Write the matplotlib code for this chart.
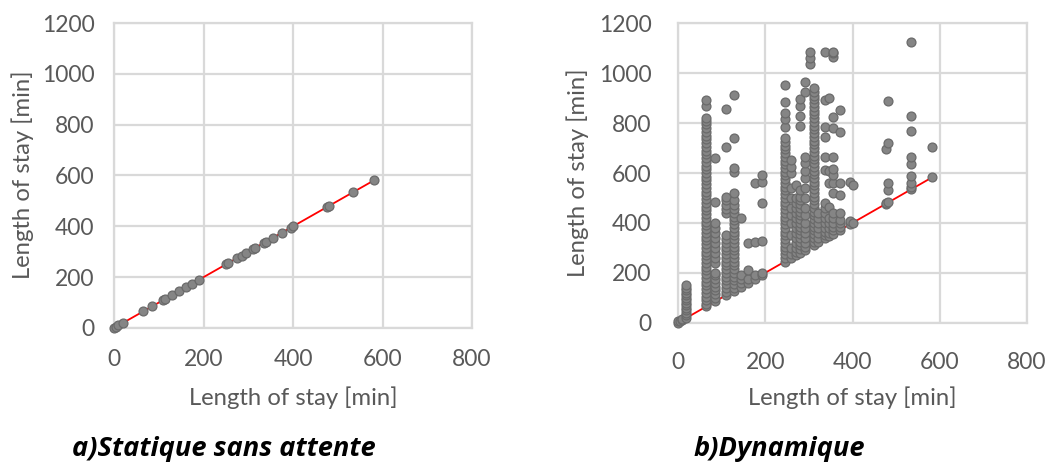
import matplotlib.pyplot as plt

# ---- data ----------------------------------------------------------------
# a) static: every stay lies on the diagonal
stat_x = [0, 5, 10, 20, 65, 85, 110, 115, 130, 145, 160, 175, 190, 250, 255,
          275, 285, 295, 310, 315, 335, 340, 355, 375, 395, 400, 475, 480,
          535, 582]
stat_y = [0, 5, 10, 20, 65, 85, 110, 115, 130, 145, 160, 175, 190, 250, 255,
          275, 285, 295, 310, 315, 335, 340, 355, 375, 395, 400, 475, 480,
          535, 582]

# b) dynamic: one list of y values per x column
dyn_at_0 = [0, 5]
dyn_at_5 = [5]
dyn_at_10 = [10, 15]
dyn_at_18 = [20, 30, 40, 50, 60, 70, 80, 90, 100, 110, 120, 130, 140, 150]
dyn_at_65 = [65, 75, 90, 105, 120, 135, 150, 165, 180, 195, 210, 225, 240,
             255, 270, 285, 300, 315, 330, 345, 360, 375, 390, 405, 420, 435,
             450, 465, 480, 495, 510, 525, 540, 555, 570, 585, 600, 615, 630,
             645, 660, 675, 690, 705, 720, 735, 750, 765, 780, 795, 810, 820,
             870, 892]
dyn_at_85 = [85, 100, 115, 130, 145, 160, 175, 190, 200, 240, 260, 280, 300,
             320, 340, 360, 380, 400, 485, 660]
dyn_at_110 = [110, 125, 140, 155, 170, 185, 200, 215, 230, 245, 260, 275, 290,
              305, 320, 335, 350, 440, 455, 470, 490, 505, 705, 855]
dyn_at_128 = [128, 140, 155, 170, 185, 200, 215, 230, 245, 260, 275, 290, 305,
              320, 335, 350, 365, 380, 395, 410, 425, 440, 455, 470, 490, 520,
              605, 620, 740, 912]
dyn_at_145 = [145, 160, 175, 190, 418]
dyn_at_160 = [160, 175, 211, 318]
dyn_at_177 = [177, 190, 325, 560]
dyn_at_192 = [192, 200, 328, 481, 565, 592]
dyn_at_245 = [245, 260, 275, 290, 305, 320, 335, 350, 365, 380, 395, 410, 425,
              440, 455, 470, 485, 500, 515, 530, 545, 560, 575, 590, 605, 620,
              635, 650, 665, 680, 695, 710, 725, 740, 785, 815, 840, 886, 953]
dyn_at_258 = [258, 275, 300, 350, 400, 430, 460, 500, 540, 600, 625, 652]
dyn_at_270 = [270, 285, 300, 320, 340, 360, 380, 400, 420, 440, 460, 480,
              500, 550]
dyn_at_280 = [280, 295, 310, 325, 340, 355, 370, 385, 400, 415, 430, 445, 460,
              475, 490, 505, 530, 790, 830, 870, 897]
dyn_at_292 = [292, 305, 320, 340, 360, 380, 400, 430, 460, 500, 540, 580, 610,
              640, 665, 926, 966]
dyn_at_302 = [1036, 1060, 1086]
dyn_at_312 = [312, 325, 340, 355, 370, 385, 400, 415, 430, 445, 460, 475, 490,
              505, 520, 535, 550, 565, 580, 595, 610, 625, 640, 655, 670, 685,
              700, 715, 730, 745, 760, 775, 790, 805, 820, 835, 850, 865, 880,
              895, 910, 925, 940]
dyn_at_322 = [322, 340, 360, 380, 400, 420, 440]
dyn_at_338 = [338, 350, 365, 380, 400, 420, 440, 460, 478, 612, 665, 745, 785,
              893, 1086]
dyn_at_346 = [346, 360, 380, 400, 420, 465, 560, 610, 899]
dyn_at_356 = [356, 370, 385, 400, 420, 440, 520, 560, 590, 618, 665, 782, 826,
              1066, 1080, 1086]
dyn_at_372 = [372, 385, 400, 413, 440, 513, 559, 766, 852]
dyn_at_395 = [395, 408, 565]
dyn_at_402 = [400, 551]
dyn_at_476 = [476, 479, 698]
dyn_at_482 = [482, 532, 560, 719, 888]
dyn_at_535 = [535, 545, 560, 588, 638, 665, 770, 828, 1126]
dyn_at_582 = [585, 705]

dyn_columns = [
    (0, dyn_at_0), (5, dyn_at_5), (10, dyn_at_10), (18, dyn_at_18),
    (65, dyn_at_65), (85, dyn_at_85), (110, dyn_at_110), (128, dyn_at_128),
    (145, dyn_at_145), (160, dyn_at_160), (177, dyn_at_177),
    (192, dyn_at_192), (245, dyn_at_245), (258, dyn_at_258),
    (270, dyn_at_270), (280, dyn_at_280), (292, dyn_at_292),
    (302, dyn_at_302), (312, dyn_at_312), (322, dyn_at_322),
    (338, dyn_at_338), (346, dyn_at_346), (356, dyn_at_356),
    (372, dyn_at_372), (395, dyn_at_395), (402, dyn_at_402),
    (476, dyn_at_476), (482, dyn_at_482), (535, dyn_at_535),
    (582, dyn_at_582),
]

diag = [0, 582]  # reference line y = x
ticks_x = [0, 200, 400, 600, 800]
ticks_y = [0, 200, 400, 600, 800, 1000, 1200]

# ---- style ---------------------------------------------------------------
plt.rcParams['font.family'] = ['Lato', 'DejaVu Sans']
GRID = '#d9d9d9'
TXT = '#595959'
FILL = '#858585'
EDGE = '#6a6a6a'


def style_axes(ax, xpad, ypad):
    ax.set_xlim(0, 800)
    ax.set_ylim(0, 1200)
    ax.set_xticks(ticks_x)
    ax.set_yticks(ticks_y)
    ax.grid(True, color=GRID, linewidth=1.6)
    ax.set_axisbelow(True)
    for s in ax.spines.values():
        s.set_color(GRID)
        s.set_linewidth(1.6)
    ax.tick_params(length=0, labelsize=16.5, labelcolor=TXT)
    ax.tick_params(axis='x', pad=xpad)
    ax.tick_params(axis='y', pad=ypad)


def scatter(ax, xs, ys):
    ax.plot(diag, diag, color='red', linewidth=1.3, zorder=2)
    ax.plot(xs, ys, linestyle='none', marker='o', markersize=6.4,
            markerfacecolor=FILL, markeredgecolor=EDGE, markeredgewidth=0.9,
            zorder=3, clip_on=False)


fig = plt.figure(figsize=(10.54, 4.62), dpi=100)
W, H = 1054, 462

ax1 = fig.add_axes([114 / W, 1 - 328 / H, 358 / W, 305 / H])
style_axes(ax1, 15, 14)
scatter(ax1, stat_x, stat_y)

ax2 = fig.add_axes([678 / W, 1 - 322.7 / H, 349 / W, 299.4 / H])
style_axes(ax2, 21, 19)
dx, dy = [], []
for cx, ys in dyn_columns:
    dx += [cx] * len(ys)
    dy += ys
scatter(ax2, dx, dy)

# axis titles
for cx, cy_ in [(293, 398), (852, 398)]:
    fig.text(cx / W, 1 - cy_ / H, 'Length of stay [min]', ha='center',
             va='center', fontsize=17.2, color=TXT)
for cx, cy_ in [(23, 175), (578, 173)]:
    fig.text(cx / W, 1 - cy_ / H, 'Length of stay [min]', ha='center',
             va='center', rotation=90, fontsize=17.2, color=TXT)

# panel captions
cap = dict(ha='center', va='center', fontsize=19.6, fontweight='bold',
           fontstyle='italic', color='black', family=['Open Sans', 'DejaVu Sans'])
fig.text(224 / W, 1 - 449 / H, 'a)Statique sans attente', **cap)
fig.text(779 / W, 1 - 449 / H, 'b)Dynamique', **cap)

fig.savefig('out.png', dpi=100)
